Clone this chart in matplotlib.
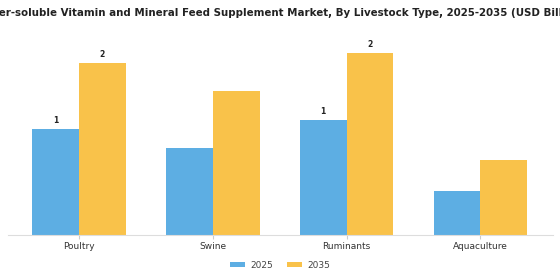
import numpy as np
import matplotlib
matplotlib.use("Agg")
import matplotlib.pyplot as plt

categories = ["Poultry", "Swine", "Ruminants", "Aquaculture"]
years = ["2025", "2035"]
values_2025 = [1.22, 1.0, 1.32, 0.51]
values_2035 = [1.98, 1.66, 2.1, 0.86]
labels_2025 = ["1", "", "1", ""]
labels_2035 = ["2", "", "2", ""]

blue = "#5DAEE3"
orange = "#F9C24A"

fig = plt.figure(figsize=(5.6, 2.8), dpi=100)
ax = fig.add_axes([0.014, 0.161, 0.973, 0.70])

x = np.arange(len(categories))
w = 0.35
b1 = ax.bar(x - w / 2, values_2025, w, color=blue, label=years[0])
b2 = ax.bar(x + w / 2, values_2035, w, color=orange, label=years[1])

ax.bar_label(b1, labels=labels_2025, padding=3, fontsize=5.5, fontweight="bold", color="#222222")
ax.bar_label(b2, labels=labels_2035, padding=3, fontsize=5.5, fontweight="bold", color="#222222")

ax.set_xlim(-0.53, 3.54)
ax.set_ylim(0, 2.26)
ax.set_xticks(x)
ax.set_xticklabels(categories, fontsize=6.5, color="#333333")
ax.tick_params(axis="x", length=3, color="#cccccc", pad=2)
ax.set_yticks([])
for s in ["top", "right", "left"]:
    ax.spines[s].set_visible(False)
ax.spines["bottom"].set_color("#dddddd")

fig.text(0.5, 0.955, "Water-soluble Vitamin and Mineral Feed Supplement Market, By Livestock Type, 2025-2035 (USD Billion)",
         ha="center", va="center", fontsize=7.4, fontweight="bold", color="#222222")

fig.legend(loc="center", bbox_to_anchor=(0.5, 0.053), ncol=2, frameon=False, fontsize=6.5,
           handlelength=1.6, handleheight=0.6, handletextpad=0.6, columnspacing=1.6,
           labelcolor="#444444")

fig.savefig("out.png", dpi=100, facecolor="white")
